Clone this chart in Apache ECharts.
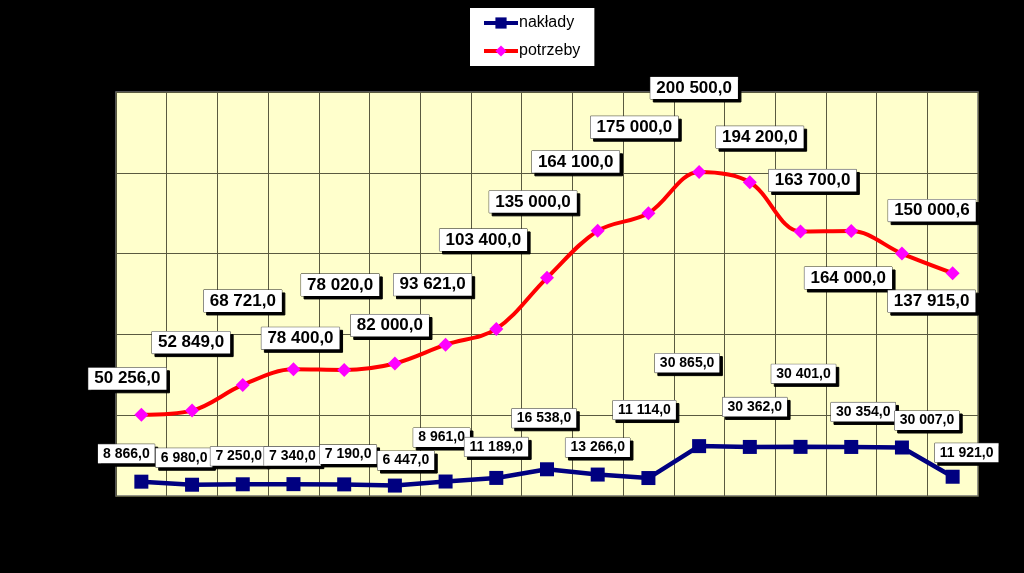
<!DOCTYPE html>
<html>
<head>
<meta charset="utf-8">
<script src="https://cdn.jsdelivr.net/npm/echarts@6/dist/echarts.min.js"></script>
<style>
html,body{margin:0;padding:0;background:#000;}
#chart{width:1024px;height:573px;}
</style>
</head>
<body>
<div id="chart"></div>
<script>
const categories = ['1','2','3','4','5','6','7','8','9','10','11','12','13','14','15','16','17'];
const naklady = [8866.0, 6980.0, 7250.0, 7340.0, 7190.0, 6447.0, 8961.0, 11189.0, 16538.0, 13266.0, 11114.0, 30865.0, 30362.0, 30401.0, 30354.0, 30007.0, 11921.0];
const potrzeby = [50256.0, 52849.0, 68721.0, 78400.0, 78020.0, 82000.0, 93621.0, 103400.0, 135000.0, 164100.0, 175000.0, 200500.0, 194200.0, 163700.0, 164000.0, 150000.6, 137915.0];
const seriesNames = ['nakłady', 'potrzeby'];
const yMin = 0, yMax = 250000, yStep = 50000;

// label placement (pixel offsets from each marker), layout only
const offsN = [[-15,-28],[-8,-27],[-4,-28],[-1,-28],[4,-30],[11,-25],[-4,-44],[0,-31],[-3,-51],[0,-27],[-4,-68],[-12,-83],[5,-40],[3,-73],[12,-35],[25,-27],[14,-24]];
const offsP = [[-14,-36],[-1,-68],[0,-84],[7,-31],[-4,-85],[-5,-38],[-13,-60],[-13,-89],[-14,-76],[-22,-69],[-14,-86],[-5,-84],[10,-45],[12,-51],[-3,47],[30,-43],[-21,28]];

function fmt(v) {
  const s = v.toFixed(1);
  const [i, d] = s.split('.');
  return i.replace(/\B(?=(\d{3})+(?!\d))/g, ' ') + ',' + d;
}

function withOffsets(arr, offs) {
  return arr.map((v, i) => ({ value: v, label: { offset: offs[i] } }));
}

const labelBase = {
  show: true,
  position: 'inside',
  align: 'center',
  verticalAlign: 'middle',
  color: '#000',
  fontFamily: 'Liberation Sans, Arial, sans-serif',
  fontWeight: 'bold',
  backgroundColor: '#fff',
  borderColor: '#333',
  borderWidth: 0.5,
  shadowColor: '#000',
  shadowOffsetX: 3,
  shadowOffsetY: 3,
  shadowBlur: 0,
  formatter: p => fmt(p.value)
};

const chart = echarts.init(document.getElementById('chart'));
chart.setOption({
  backgroundColor: '#000',
  animation: false,
  legend: {
    left: 470, top: 8,
    orient: 'vertical',
    backgroundColor: '#fff',
    padding: [7, 14, 7, 12],
    itemWidth: 34, itemHeight: 14, itemGap: 12,
    lineStyle: { width: 4 },
    textStyle: { color: '#000', fontSize: 16, fontFamily: 'Liberation Sans, Arial, sans-serif', padding: [0, 0, 0, -4] },
    data: seriesNames
  },
  grid: {
    left: 116, right: 46, top: 92, bottom: 77,
    show: true,
    backgroundColor: '#FFFFCC',
    borderColor: '#707070',
    borderWidth: 1.5
  },
  xAxis: {
    type: 'category',
    data: categories,
    boundaryGap: true,
    axisLine: { show: false },
    axisTick: { show: false },
    axisLabel: { show: false },
    splitLine: { show: true, interval: 0, lineStyle: { color: '#5a5a40', width: 1 } }
  },
  yAxis: {
    type: 'value',
    min: yMin, max: yMax, interval: yStep,
    axisLine: { show: false },
    axisTick: { show: false },
    axisLabel: { show: false },
    splitLine: { show: true, lineStyle: { color: '#5a5a40', width: 1 } }
  },
  series: [
    {
      name: seriesNames[0],
      type: 'line',
      data: withOffsets(naklady, offsN),
      symbol: 'rect',
      symbolSize: 14,
      itemStyle: { color: '#000080' },
      lineStyle: { color: '#000080', width: 4.5 },
      label: Object.assign({}, labelBase, { fontSize: 14, padding: [3, 5, 2, 5] }),
      z: 3
    },
    {
      name: seriesNames[1],
      type: 'line',
      data: withOffsets(potrzeby, offsP),
      smooth: 0.35,
      symbol: 'diamond',
      symbolSize: 14,
      itemStyle: { color: '#FF00FF' },
      lineStyle: { color: '#FF0000', width: 4 },
      label: Object.assign({}, labelBase, { fontSize: 17, padding: [3, 6, 2, 6] }),
      z: 4
    }
  ]
});
</script>
</body>
</html>
